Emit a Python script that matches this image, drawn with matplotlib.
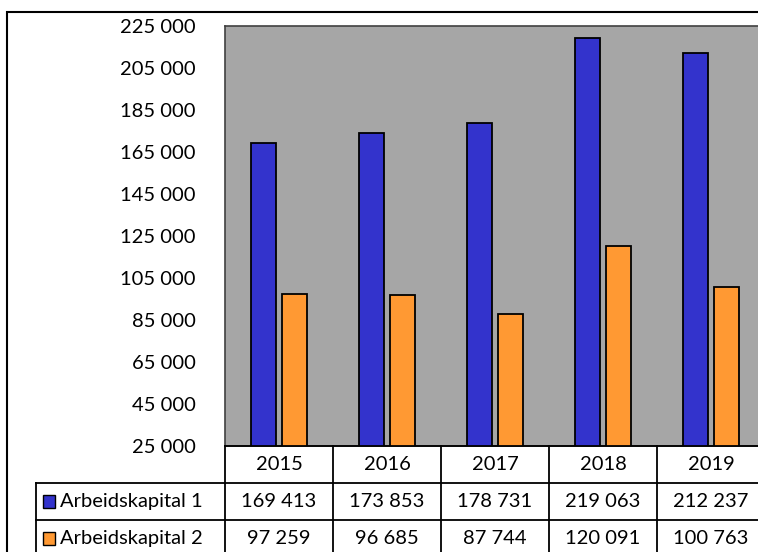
import numpy as np
import matplotlib.pyplot as plt
from matplotlib.patches import Rectangle

years = ["2015", "2016", "2017", "2018", "2019"]
kap1 = [169413, 173853, 178731, 219063, 212237]
kap2 = [97259, 96685, 87744, 120091, 100763]
series_names = ["Arbeidskapital 1", "Arbeidskapital 2"]
series_colors = ["#3333CC", "#FF9933"]
y_ticks = list(range(25000, 225001, 20000))

W, H = 758, 552
FS = 14.5
plt.rcParams['font.family'] = ['Lato', 'DejaVu Sans']

def fmt(v):
    return f"{v:,}".replace(",", " ")

fig = plt.figure(figsize=(W / 100, H / 100), dpi=100)

# pixel helpers
def px_box(x0, y0, x1, y1):
    return [x0 / W, 1 - y1 / H, (x1 - x0) / W, (y1 - y0) / H]

# outer chart border (clipped at right/bottom like the source)
fig.patches.append(Rectangle((7 / W, -0.2), 2, 1.2 - 12 / H, transform=fig.transFigure,
                             fill=False, ec="black", lw=1.5))

ax = fig.add_axes(px_box(225, 26, 765, 446))
ax.set_facecolor("#A6A6A6")
x = np.arange(len(years))
bw = 0.23
off = 0.145
ax.bar(x - off, kap1, bw, bottom=0, color=series_colors[0], edgecolor="black", lw=1.3, zorder=3)
ax.bar(x + off, kap2, bw, bottom=0, color=series_colors[1], edgecolor="black", lw=1.3, zorder=3)
ax.set_xlim(-0.5, len(years) - 0.5)
ax.set_ylim(25000, 225000)
ax.set_yticks(y_ticks)
ax.set_yticklabels([fmt(v) for v in y_ticks], fontsize=FS)
ax.tick_params(axis="y", length=0, pad=21)
ax.set_xticks([])
for s in ax.spines.values():
    s.set_color("#404040")
    s.set_linewidth(1.2)

# data table below the plot
tax = fig.add_axes(px_box(36, 446, 765, 557))
tax.set_xlim(-2.25, len(years) - 0.5)
tax.set_ylim(3, 0)
tax.axis("off")
lk = dict(color="black", lw=1.3, clip_on=False)
# horizontal lines
tax.plot([-0.5, len(years) - 0.5], [0, 0], **lk)
tax.plot([-2.25, len(years) - 0.5], [1, 1], **lk)
tax.plot([-2.25, len(years) - 0.5], [2, 2], **lk)
tax.plot([-2.25, len(years) - 0.5], [3, 3], **lk)
# vertical lines
tax.plot([-2.25, -2.25], [1, 3], **lk)
for i in range(len(years) + 1):
    tax.plot([i - 0.5, i - 0.5], [0, 3], **lk)

for i, yr in enumerate(years):
    tax.text(i, 0.5, yr, ha="center", va="center", fontsize=FS)
    tax.text(i, 1.5, fmt(kap1[i]), ha="center", va="center", fontsize=FS)
    tax.text(i, 2.5, fmt(kap2[i]), ha="center", va="center", fontsize=FS)

for r, (name, col) in enumerate(zip(series_names, series_colors)):
    # swatch ~13x13 px: 1 unit = 108 px in x, 37 px in y
    tax.add_patch(Rectangle((-2.185, 1.32 + r), 12 / 108, 13 / 37, fc=col, ec="black", lw=1.0, clip_on=False))
    tax.text(-2.03, 1.5 + r, name, ha="left", va="center", fontsize=FS)

fig.savefig("out.png", dpi=100)
